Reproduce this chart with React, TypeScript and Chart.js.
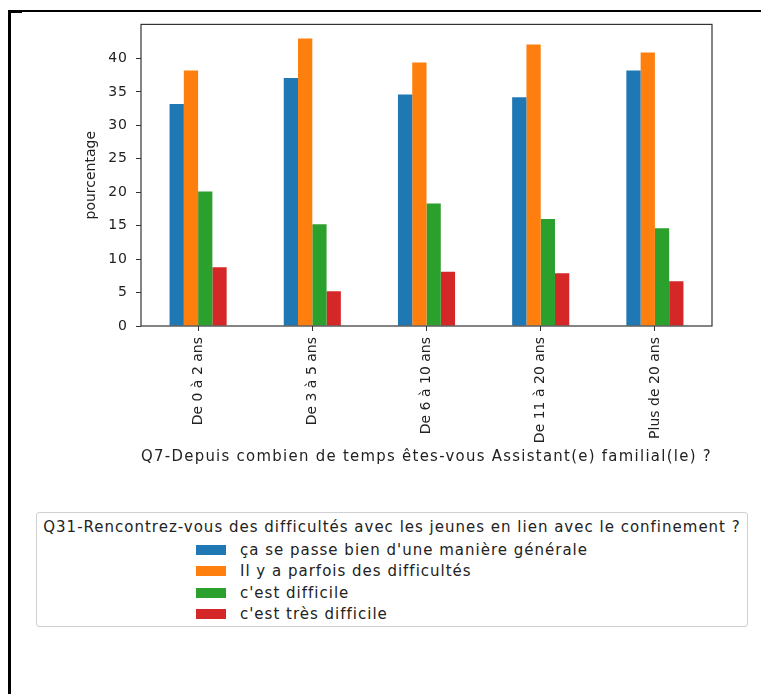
import React, { useEffect, useRef } from "react";
import { Chart, registerables } from "chart.js";

Chart.register(...registerables);

const categories = ["De 0 à 2 ans", "De 3 à 5 ans", "De 6 à 10 ans", "De 11 à 20 ans", "Plus de 20 ans"];
const seriesLabels = [
  "ça se passe bien d'une manière générale",
  "Il y a parfois des difficultés",
  "c'est difficile",
  "c'est très difficile",
];
const seriesColors = ["#1f77b4", "#ff7f0e", "#2ca02c", "#d62728"];
const bienValues = [33.2, 37.1, 34.6, 34.2, 38.2];
const parfoisValues = [38.2, 43.0, 39.4, 42.1, 40.9];
const difficileValues = [20.1, 15.2, 18.3, 16.0, 14.6];
const tresDifficileValues = [8.8, 5.2, 8.1, 7.9, 6.7];
const yTicks = [0, 5, 10, 15, 20, 25, 30, 35, 40];

const xTitle = "Q7-Depuis combien de temps êtes-vous Assistant(e) familial(le) ?";
const yTitle = "pourcentage";
const legendTitle = "Q31-Rencontrez-vous des difficultés avec les jeunes en lien avec le confinement ?";

const FONT = "'DejaVu Sans', sans-serif";

const framePlugin = {
  id: "frame",
  afterDatasetsDraw(chart: any) {
    const { ctx, chartArea: a } = chart;
    ctx.save();
    ctx.strokeStyle = "#333";
    ctx.lineWidth = 1.2;
    ctx.strokeRect(a.left, a.top, a.right - a.left, a.bottom - a.top);
    ctx.restore();
  },
};

function spaceTitle(scale: any, spacing: string) {
  if (scale.__spaced) return;
  scale.__spaced = true;
  const orig = scale.drawTitle;
  scale.drawTitle = function (...args: any[]) {
    const ctx = this.ctx;
    const prev = ctx.letterSpacing;
    ctx.letterSpacing = spacing;
    orig.apply(this, args);
    ctx.letterSpacing = prev || "0px";
  };
}

function spaceLabels(scale: any, spacing: string) {
  if (scale.__spacedL) return;
  scale.__spacedL = true;
  const orig = scale.drawLabels;
  scale.drawLabels = function (...args: any[]) {
    const ctx = this.ctx;
    const prev = ctx.letterSpacing;
    ctx.letterSpacing = spacing;
    orig.apply(this, args);
    ctx.letterSpacing = prev || "0px";
  };
}

export default function App() {
  const ref = useRef<HTMLCanvasElement | null>(null);

  useEffect(() => {
    if (!ref.current) return;
    const allValues = [bienValues, parfoisValues, difficileValues, tresDifficileValues];
    const chart = new Chart(ref.current, {
      type: "bar",
      data: {
        labels: categories,
        datasets: allValues.map((vals, i) => ({
          label: seriesLabels[i],
          data: vals,
          backgroundColor: seriesColors[i],
          borderWidth: 0,
          categoryPercentage: 0.5,
          barPercentage: 1.0,
        })),
      },
      options: {
        responsive: false,
        animation: false,
        layout: { padding: { left: 71, top: 13, right: 50, bottom: 8 } },
        plugins: {
          legend: { display: false },
          tooltip: { enabled: false },
        },
        scales: {
          x: {
            border: { display: false },
            grid: { offset: false, drawOnChartArea: false, drawTicks: true, tickLength: 5, color: "#333" },
            ticks: {
              autoSkip: false,
              maxRotation: 90,
              minRotation: 90,
              padding: 6,
              color: "#222",
              font: { family: FONT, size: 14 },
            },
            title: {
              display: true,
              text: xTitle,
              color: "#222",
              font: { family: FONT, size: 15 },
              padding: { top: 0, bottom: 4 },
            },
            afterFit: (scale: any) => {
              scale.height = 144;
              spaceTitle(scale, "1.3px");
            },
          },
          y: {
            min: 0,
            max: 45.1,
            border: { display: false },
            grid: { drawOnChartArea: false, drawTicks: true, tickLength: 5, color: "#333" },
            ticks: {
              stepSize: 5,
              padding: 8,
              color: "#222",
              font: { family: FONT, size: 14 },
            },
            afterBuildTicks: (scale: any) => {
              scale.ticks = yTicks.map((v) => ({ value: v }));
            },
            title: {
              display: true,
              text: yTitle,
              color: "#222",
              font: { family: FONT, size: 14 },
              padding: { top: 4, bottom: 0 },
            },
            afterFit: (scale: any) => {
              scale.width = 62;
              spaceLabels(scale, "1px");
            },
          },
        },
      },
      plugins: [framePlugin],
    });
    return () => chart.destroy();
  }, []);

  return (
    <div style={{ position: "relative", width: 746, height: 670, fontFamily: FONT }}>
      <div
        style={{
          position: "fixed",
          left: 8,
          top: 10,
          width: 753,
          height: 2,
          background: "#000",
          pointerEvents: "none",
        }}
      />
      <div
        style={{
          position: "fixed",
          left: 8,
          top: 10,
          width: 3,
          height: 684,
          background: "#000",
          pointerEvents: "none",
        }}
      />
      <div
        style={{
          position: "fixed",
          left: 8,
          top: 10,
          width: 14,
          height: 3,
          background: "#000",
        }}
      />
      <canvas ref={ref} width={754} height={470} style={{ position: "absolute", left: 0, top: 0 }} />
      <div
        style={{
          position: "absolute",
          left: 28,
          top: 504,
          width: 712,
          height: 115,
          border: "1px solid #d0d0d0",
          borderRadius: 3,
          boxSizing: "border-box",
          display: "flex",
          flexDirection: "column",
          alignItems: "center",
          fontSize: 15,
          letterSpacing: "1px",
          color: "#222",
        }}
      >
        <div style={{ marginTop: 4, lineHeight: "20px", whiteSpace: "nowrap" }}>{legendTitle}</div>
        <div style={{ display: "flex", flexDirection: "column", marginTop: 2 }}>
          {seriesLabels.map((lab, i) => (
            <div key={lab} style={{ display: "flex", alignItems: "center", height: 21.5, whiteSpace: "nowrap" }}>
              <span
                style={{
                  display: "inline-block",
                  width: 30,
                  height: 10,
                  background: seriesColors[i],
                  marginRight: 14,
                }}
              />
              <span>{lab}</span>
            </div>
          ))}
        </div>
      </div>
    </div>
  );
}
